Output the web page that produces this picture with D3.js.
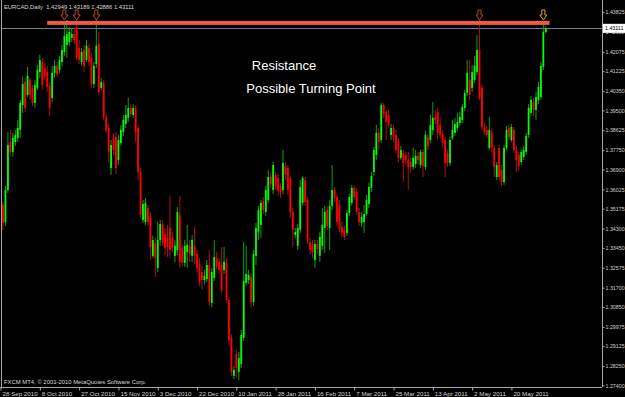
<!DOCTYPE html>
<html><head><meta charset="utf-8">
<script src="https://cdn.jsdelivr.net/npm/d3@7"></script>
<style>html,body{margin:0;padding:0;background:#000;overflow:hidden}svg{display:block}</style>
</head><body><svg id="c" width="625" height="397"></svg>
<script>
const symbolTitle = "EURCAD,Daily";
const footerText = "FXCM MT4, \u00a9 2001-2010 MetaQuotes Software Corp.";
const annotations = ["Resistance", "Possible Turning Point"];

const opens = [
1.3534,1.3459,1.3600,1.3811,1.3767,1.3811,1.3829,1.3864,1.3974,1.4075,
1.4018,1.4084,1.4049,1.3983,1.4049,1.4119,1.4163,1.4137,1.4119,1.4058,
1.4005,1.4115,1.4146,1.4128,1.4163,1.4207,1.4238,1.4251,1.4269,1.4286,
1.4313,1.4225,1.4163,1.4216,1.4172,1.4225,1.4181,1.4066,1.4154,1.4242,
1.4049,1.4071,1.3921,1.3873,1.3697,1.3829,1.3833,1.3732,1.3807,1.3855,
1.3890,1.3917,1.3961,1.3930,1.3961,1.3873,1.3679,1.3468,1.3459,1.3521,
1.3486,1.3310,1.3367,1.3257,1.3380,1.3450,1.3406,1.3389,1.3433,1.3389,
1.3310,1.3336,1.3490,1.3345,1.3279,1.3327,1.3354,1.3310,1.3354,1.3318,
1.3274,1.3239,1.3204,1.3208,1.3270,1.3103,1.3213,1.3301,1.3283,1.3270,
1.3248,1.3279,1.3116,1.2949,1.2782,1.2878,1.2799,1.2834,1.2949,1.3191,
1.3204,1.3217,1.3107,1.3310,1.3415,1.3446,1.3552,1.3503,1.3556,1.3657,
1.3600,1.3666,1.3653,1.3618,1.3600,1.3706,1.3697,1.3653,1.3503,1.3402,
1.3354,1.3424,1.3543,1.3644,1.3556,1.3371,1.3362,1.3292,1.3362,1.3310,
1.3354,1.3433,1.3512,1.3433,1.3530,1.3600,1.3569,1.3534,1.3437,1.3424,
1.3411,1.3499,1.3543,1.3609,1.3591,1.3503,1.3455,1.3459,1.3494,1.3538,
1.3609,1.3679,1.3754,1.3851,1.3820,1.3974,1.3943,1.3930,1.3842,1.3873,
1.3842,1.3811,1.3741,1.3763,1.3754,1.3732,1.3723,1.3701,1.3714,1.3750,
1.3710,1.3767,1.3701,1.3833,1.3820,1.3864,1.3921,1.3943,1.3886,1.3846,
1.3820,1.3763,1.3719,1.3829,1.3851,1.3873,1.3895,1.3908,1.3961,1.4027,
1.4084,1.4049,1.4084,1.4119,1.4216,1.4049,1.3877,1.3864,1.3785,1.3855,
1.3785,1.3657,1.3785,1.3688,1.3635,1.3785,1.3873,1.3820,1.3864,1.3776,
1.3754,1.3723,1.3745,1.3767,1.3842,1.3939,1.3987,1.3952,1.3996,1.4009,
1.4141,1.42949];

const highs = [
1.3547,1.3618,1.3855,1.3864,1.3851,1.3864,1.3908,1.3996,1.4097,1.4093,
1.4141,1.4093,1.4062,1.4084,1.4150,1.4194,1.4181,1.4159,1.4146,1.4075,
1.4146,1.4172,1.4163,1.4190,1.4238,1.4326,1.4348,1.4317,1.4313,1.4313,
1.4348,1.4260,1.4225,1.4238,1.4260,1.4242,1.4207,1.4163,1.4348,1.4295,
1.4093,1.4084,1.3934,1.3890,1.3820,1.3851,1.3855,1.3842,1.3886,1.3930,
1.3974,1.4005,1.3978,1.3978,1.3974,1.3886,1.3697,1.3556,1.3565,1.3534,
1.3503,1.3398,1.3389,1.3459,1.3468,1.3468,1.3433,1.3446,1.3574,1.3415,
1.3380,1.3525,1.3574,1.3362,1.3380,1.3446,1.3380,1.3402,1.3437,1.3336,
1.3301,1.3266,1.3248,1.3292,1.3336,1.3257,1.3380,1.3327,1.3301,1.3349,
1.3349,1.3301,1.3129,1.2966,1.2826,1.2896,1.2887,1.2984,1.3371,1.3354,
1.3248,1.3235,1.3336,1.3455,1.3530,1.3556,1.3569,1.3618,1.3688,1.3679,
1.3723,1.3679,1.3670,1.3631,1.3776,1.3723,1.3710,1.3662,1.3521,1.3433,
1.3450,1.3644,1.3662,1.3657,1.3569,1.3389,1.3380,1.3380,1.3380,1.3415,
1.3521,1.3530,1.3530,1.3556,1.3710,1.3613,1.3582,1.3556,1.3459,1.3442,
1.3512,1.3582,1.3622,1.3618,1.3609,1.3521,1.3503,1.3534,1.3578,1.3631,
1.3679,1.3789,1.3886,1.3873,1.3983,1.3983,1.3952,1.3952,1.3890,1.3886,
1.3864,1.3829,1.3794,1.3776,1.3767,1.3767,1.3741,1.3785,1.3776,1.3767,
1.3776,1.3780,1.3860,1.3846,1.3930,1.3987,1.3952,1.3961,1.3917,1.3864,
1.3833,1.3776,1.3833,1.3908,1.3917,1.3939,1.3943,1.3978,1.4040,1.4172,
1.4172,1.4150,1.4190,1.4282,1.4348,1.4062,1.3895,1.3882,1.3921,1.3873,
1.3798,1.3723,1.3798,1.3710,1.3798,1.3882,1.3890,1.3890,1.3877,1.3794,
1.3767,1.3776,1.3794,1.3851,1.3978,1.4014,1.4005,1.4031,1.4075,1.4163,
1.4339,1.43189];

const lows = [
1.3424,1.3442,1.3587,1.3750,1.3745,1.3794,1.3811,1.3829,1.3939,1.3943,
1.4009,1.3996,1.3970,1.3961,1.4040,1.4093,1.4040,1.4084,1.4031,1.3926,
1.3987,1.4093,1.4097,1.4115,1.4146,1.4190,1.4181,1.4234,1.4251,1.4242,
1.4172,1.4154,1.4146,1.4119,1.4163,1.4146,1.4049,1.4049,1.4137,1.4018,
1.4040,1.3908,1.3851,1.3723,1.3666,1.3754,1.3670,1.3710,1.3794,1.3838,
1.3873,1.3899,1.3921,1.3917,1.3811,1.3644,1.3477,1.3455,1.3446,1.3442,
1.3292,1.3301,1.3217,1.3239,1.3354,1.3354,1.3314,1.3305,1.3301,1.3327,
1.3283,1.3314,1.3257,1.3266,1.3261,1.3257,1.3283,1.3283,1.3274,1.3239,
1.3178,1.3160,1.3186,1.3195,1.3090,1.3085,1.3200,1.3248,1.3230,1.3147,
1.3230,1.3103,1.2914,1.2782,1.2768,1.2773,1.2764,1.2817,1.2936,1.3178,
1.3186,1.3081,1.3090,1.3270,1.3380,1.3389,1.3494,1.3486,1.3543,1.3609,
1.3582,1.3600,1.3574,1.3565,1.3582,1.3644,1.3578,1.3477,1.3349,1.3389,
1.3336,1.3411,1.3530,1.3530,1.3362,1.3318,1.3301,1.3257,1.3318,1.3283,
1.3336,1.3323,1.3424,1.3336,1.3512,1.3547,1.3442,1.3415,1.3393,1.3380,
1.3398,1.3486,1.3530,1.3556,1.3490,1.3442,1.3437,1.3411,1.3486,1.3521,
1.3591,1.3662,1.3732,1.3776,1.3807,1.3917,1.3820,1.3873,1.3820,1.3807,
1.3763,1.3723,1.3732,1.3635,1.3710,1.3600,1.3675,1.3688,1.3697,1.3714,
1.3697,1.3657,1.3688,1.3776,1.3807,1.3842,1.3890,1.3820,1.3829,1.3789,
1.3657,1.3701,1.3706,1.3820,1.3838,1.3860,1.3882,1.3895,1.3948,1.4014,
1.3996,1.4031,1.4071,1.4106,1.3996,1.3864,1.3842,1.3829,1.3776,1.3767,
1.3657,1.3644,1.3644,1.3618,1.3622,1.3776,1.3820,1.3811,1.3763,1.3679,
1.3688,1.3710,1.3732,1.3754,1.3829,1.3926,1.3926,1.3908,1.3978,1.3996,
1.4128,1.42886];

const closes = [
1.3455,1.3600,1.3798,1.3767,1.3829,1.3842,1.3873,1.3983,1.4066,1.3961,
1.4102,1.4018,1.3983,1.4062,1.4128,1.4172,1.4062,1.4102,1.4053,1.3961,
1.4115,1.4146,1.4110,1.4172,1.4216,1.4278,1.4286,1.4295,1.4286,1.4260,
1.4181,1.4172,1.4207,1.4146,1.4234,1.4163,1.4066,1.4146,1.4234,1.4031,
1.4075,1.3921,1.3864,1.3767,1.3798,1.3776,1.3697,1.3820,1.3864,1.3908,
1.3930,1.3961,1.3934,1.3961,1.3855,1.3679,1.3490,1.3538,1.3543,1.3459,
1.3349,1.3380,1.3301,1.3380,1.3450,1.3367,1.3345,1.3349,1.3336,1.3345,
1.3354,1.3503,1.3283,1.3279,1.3354,1.3358,1.3318,1.3380,1.3310,1.3257,
1.3195,1.3204,1.3222,1.3270,1.3107,1.3239,1.3305,1.3266,1.3248,1.3160,
1.3283,1.3116,1.2940,1.2799,1.2808,1.2817,1.2861,1.2962,1.3200,1.3230,
1.3226,1.3107,1.3318,1.3433,1.3512,1.3543,1.3512,1.3600,1.3657,1.3626,
1.3710,1.3618,1.3596,1.3591,1.3719,1.3666,1.3600,1.3503,1.3424,1.3415,
1.3433,1.3613,1.3653,1.3547,1.3380,1.3336,1.3327,1.3362,1.3340,1.3393,
1.3446,1.3503,1.3442,1.3530,1.3600,1.3565,1.3459,1.3428,1.3411,1.3393,
1.3499,1.3569,1.3609,1.3569,1.3503,1.3459,1.3481,1.3494,1.3556,1.3613,
1.3662,1.3776,1.3851,1.3811,1.3974,1.3934,1.3899,1.3886,1.3873,1.3833,
1.3776,1.3741,1.3776,1.3719,1.3732,1.3701,1.3701,1.3741,1.3750,1.3732,
1.3767,1.3706,1.3842,1.3794,1.3886,1.3917,1.3908,1.3851,1.3842,1.3807,
1.3719,1.3719,1.3820,1.3864,1.3890,1.3899,1.3921,1.3965,1.4027,1.4115,
1.4018,1.4119,1.4146,1.4216,1.4005,1.3877,1.3855,1.3842,1.3864,1.3785,
1.3701,1.3710,1.3657,1.3635,1.3785,1.3864,1.3833,1.3877,1.3776,1.3732,
1.3706,1.3767,1.3776,1.3838,1.3961,1.3996,1.3952,1.4009,1.4053,1.4146,
1.4295,1.43111];

const xTickLabels = ["28 Sep 2010","8 Oct 2010","27 Oct 2010","15 Nov 2010","3 Dec 2010","22 Dec 2010","10 Jan 2011","28 Jan 2011","16 Feb 2011","7 Mar 2011","25 Mar 2011","13 Apr 2011","2 May 2011","20 May 2011"];
const xTickIndex = [-1,15,31,47,63,79,95,111,127,143,159,175,191,207];
const yTickValues = [1.43825,1.42950,1.42075,1.41225,1.40350,1.39500,1.38625,1.37750,1.36900,1.36025,1.35175,1.34300,1.33450,1.32575,1.31700,1.30850,1.29975,1.29125,1.28250,1.27400];

const currentPrice = 1.43111;
const resistancePrice = 1.4335;
const resistanceSpan = [18, 222.5];
const arrowIndex = [25, 30, 38, 194, 220];
const arrowColors = ["#b8442e","#b8442e","#b8442e","#b8442e","#d0ac1c"];
const arrowTipPrice = 1.4348;

const W = 625, H = 397;
const svg = d3.select("#c");
svg.append("rect").attr("width", W).attr("height", H).attr("fill", "#000");

const xs = d3.scaleLinear().domain([0, opens.length - 1]).range([3, 545.8]);
const ys = d3.scaleLinear().domain([1.27400, 1.43825]).range([385.4, 12.1]);

const plotRight = 602, plotBottom = 387;
const fontFam = "'Liberation Sans', Arial, sans-serif";

// current price line
svg.append("line").attr("x1", 2).attr("x2", plotRight).attr("y1", Math.round(ys(currentPrice)) + 0.5).attr("y2", Math.round(ys(currentPrice)) + 0.5)
  .attr("stroke", "#6f808a").attr("stroke-width", 1);

// candles
const idx = d3.range(opens.length);
const g = svg.append("g");
g.selectAll("line.wick").data(idx).join("line")
  .attr("x1", i => xs(i)).attr("x2", i => xs(i))
  .attr("y1", i => ys(highs[i])).attr("y2", i => ys(lows[i]))
  .attr("stroke", i => closes[i] >= opens[i] ? "#10a010" : "#b01010")
  .attr("stroke-width", 1);
g.selectAll("rect.body").data(idx).join("rect")
  .attr("x", i => xs(i) - 0.9).attr("width", 1.8)
  .attr("y", i => ys(Math.max(opens[i], closes[i])))
  .attr("height", i => Math.max(0.8, Math.abs(ys(opens[i]) - ys(closes[i]))))
  .attr("fill", i => closes[i] >= opens[i] ? "#00ff00" : "#ff0000");

// resistance line
svg.append("rect").attr("x", xs(resistanceSpan[0])).attr("width", xs(resistanceSpan[1]) - xs(resistanceSpan[0]))
  .attr("y", ys(resistancePrice) - 2).attr("height", 4).attr("fill", "#f05a3e");

// arrows
const arrowPath = "M-1.5,-10 L1.5,-10 L1.5,-5 L3.5,-5 L0,0 L-3.5,-5 L-1.5,-5 Z";
svg.selectAll("path.arrow").data(arrowIndex).join("path")
  .attr("d", arrowPath)
  .attr("transform", d => `translate(${xs(d)},${ys(arrowTipPrice)})`)
  .attr("fill", "none").attr("stroke", (d, i) => arrowColors[i]).attr("stroke-width", 1);

// annotations
svg.append("text").attr("x", 284).attr("y", 70).attr("text-anchor", "middle")
  .attr("fill", "#fff").attr("font-family", fontFam).attr("font-size", 13).text(annotations[0]);
svg.append("text").attr("x", 311).attr("y", 93).attr("text-anchor", "middle")
  .attr("fill", "#fff").attr("font-family", fontFam).attr("font-size", 13).text(annotations[1]);

// frame
const frameCol = "#a8a8a8";
svg.append("line").attr("x1", 1.5).attr("x2", 1.5).attr("y1", 0).attr("y2", plotBottom).attr("stroke", frameCol);
svg.append("line").attr("x1", 0).attr("x2", plotRight).attr("y1", plotBottom + 0.5).attr("y2", plotBottom + 0.5).attr("stroke", frameCol);
svg.append("line").attr("x1", plotRight + 0.5).attr("x2", plotRight + 0.5).attr("y1", 0).attr("y2", plotBottom).attr("stroke", frameCol);

// y axis
const yAxis = d3.axisRight(ys).tickValues(yTickValues).tickFormat(d3.format(".5f")).tickSize(2).tickPadding(1);
const ga = svg.append("g").attr("transform", `translate(${plotRight + 0.5},0)`).call(yAxis);
ga.select(".domain").remove();
ga.selectAll("line").attr("stroke", frameCol);
ga.selectAll("text").attr("fill", "#d0d0d0").attr("font-family", fontFam).attr("font-size", 5.3);

// x axis
const xAxis = d3.axisBottom(xs).tickValues(xTickIndex).tickFormat((d, i) => xTickLabels[i]).tickSize(3).tickPadding(1);
const gx = svg.append("g").attr("transform", `translate(0,${plotBottom + 0.5})`).call(xAxis);
gx.select(".domain").remove();
gx.selectAll("line").attr("stroke", frameCol);
gx.selectAll("text").attr("fill", "#d0d0d0").attr("font-family", fontFam).attr("font-size", 6.2)
  .attr("text-anchor", "start").attr("dx", 1.5);

// current price label
const cpY = ys(currentPrice);
svg.append("rect").attr("x", plotRight + 1).attr("y", cpY - 4.5).attr("width", W - plotRight - 1).attr("height", 9).attr("fill", "#fff");
svg.append("text").attr("x", plotRight + 3).attr("y", cpY + 2).attr("fill", "#000")
  .attr("font-family", fontFam).attr("font-size", 5.3).text(d3.format(".5f")(currentPrice));

// header & footer
const last = opens.length - 1;
const fmt = d3.format(".5f");
svg.append("text").attr("x", 4).attr("y", 9).attr("fill", "#d8d8d8").attr("font-family", fontFam).attr("font-size", 5.8)
  .attr("xml:space", "preserve")
  .text(`${symbolTitle}  ${fmt(opens[last])} ${fmt(highs[last])} ${fmt(lows[last])} ${fmt(closes[last])}`);
svg.append("text").attr("x", 4).attr("y", 384).attr("fill", "#d8d8d8").attr("font-family", fontFam).attr("font-size", 5.9)
  .text(footerText);
</script></body></html>
